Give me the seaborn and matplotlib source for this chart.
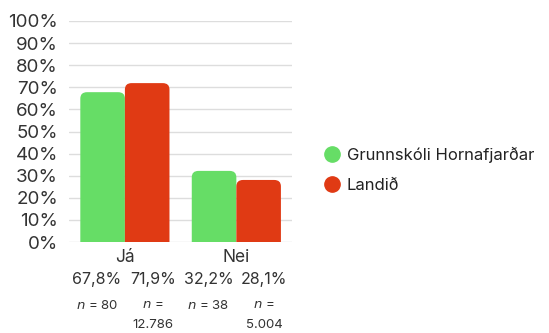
import matplotlib
matplotlib.use('Agg')
import matplotlib.pyplot as plt
import seaborn as sns
import pandas as pd
from matplotlib.lines import Line2D
from matplotlib.patches import FancyBboxPatch

categories = ['Já', 'Nei']
series = ['Grunnskóli Hornafjarðar', 'Landið']
school_vals = [67.8, 32.2]
land_vals = [71.9, 28.1]
school_n = ['80', '38']
land_n = ['12.786', '5.004']
yticks = [0, 10, 20, 30, 40, 50, 60, 70, 80, 90, 100]
colors = ['#66DD66', '#E03A14']

df = pd.DataFrame({
    'svar': categories * 2,
    'hopur': [series[0]] * 2 + [series[1]] * 2,
    'gildi': school_vals + land_vals,
})

sns.set_style('white')
plt.rcParams['font.family'] = ['Inter', 'DejaVu Sans']

fig = plt.figure(figsize=(5.49, 3.33), dpi=100)
ax = fig.add_axes([0.126, 0.273, 0.406, 0.664])
sns.barplot(data=df, x='svar', y='gildi', hue='hopur', palette=colors,
            width=0.8, ax=ax, legend=False, saturation=1, zorder=3)

# swap plain bars for ones with rounded tops
for p in list(ax.patches):
    x0, y0 = p.get_x(), p.get_y()
    w, h = p.get_width(), p.get_height()
    fc = p.get_facecolor()
    p.remove()
    ax.add_patch(FancyBboxPatch((x0, y0 - 5), w, h + 5,
                                boxstyle='round,pad=0,rounding_size=0.06',
                                mutation_aspect=48, facecolor=fc,
                                linewidth=0, zorder=3))

ax.set_xlim(-0.5, 1.5)
ax.set_ylim(0, 100)
ax.set_yticks(yticks)
ax.set_yticklabels([f'{t}%' for t in yticks], fontsize=13.5, color='#333333')
ax.yaxis.grid(True, color='#dddddd', linewidth=1, zorder=0)
ax.tick_params(axis='y', length=0, pad=8)
ax.tick_params(axis='x', length=0, pad=5, labelsize=12.5, labelcolor='#333333')
ax.set_xlabel('')
ax.set_ylabel('')
for s in ax.spines.values():
    s.set_visible(False)

# value and n labels under each bar
trans = ax.get_xaxis_transform()
for i, cat in enumerate(categories):
    for j, (vals, ns) in enumerate([(school_vals, school_n), (land_vals, land_n)]):
        x = i + (j - 0.5) * 0.5
        ax.text(x, -0.17, f'{vals[i]:.1f}%'.replace('.', ','), transform=trans,
                ha='center', va='center', fontsize=11.5, color='#333333')
        if len(ns[i]) <= 3:
            ax.text(x, -0.285, f'$n$ = {ns[i]}', transform=trans,
                    ha='center', va='center', fontsize=9.5, color='#333333')
        else:
            ax.text(x, -0.285, '$n$ =', transform=trans,
                    ha='center', va='center', fontsize=9.5, color='#333333')
            ax.text(x, -0.375, ns[i], transform=trans,
                    ha='center', va='center', fontsize=9.5, color='#333333')

handles = [Line2D([0], [0], marker='o', linestyle='', markersize=11,
                  markerfacecolor=c, markeredgecolor=c) for c in colors]
fig.legend(handles, series, loc='center left', bbox_to_anchor=(0.56, 0.49),
           frameon=False, fontsize=12, handletextpad=0.25, labelspacing=0.9,
           handlelength=1.2, labelcolor='#222222')

fig.savefig('out.png', dpi=100)
